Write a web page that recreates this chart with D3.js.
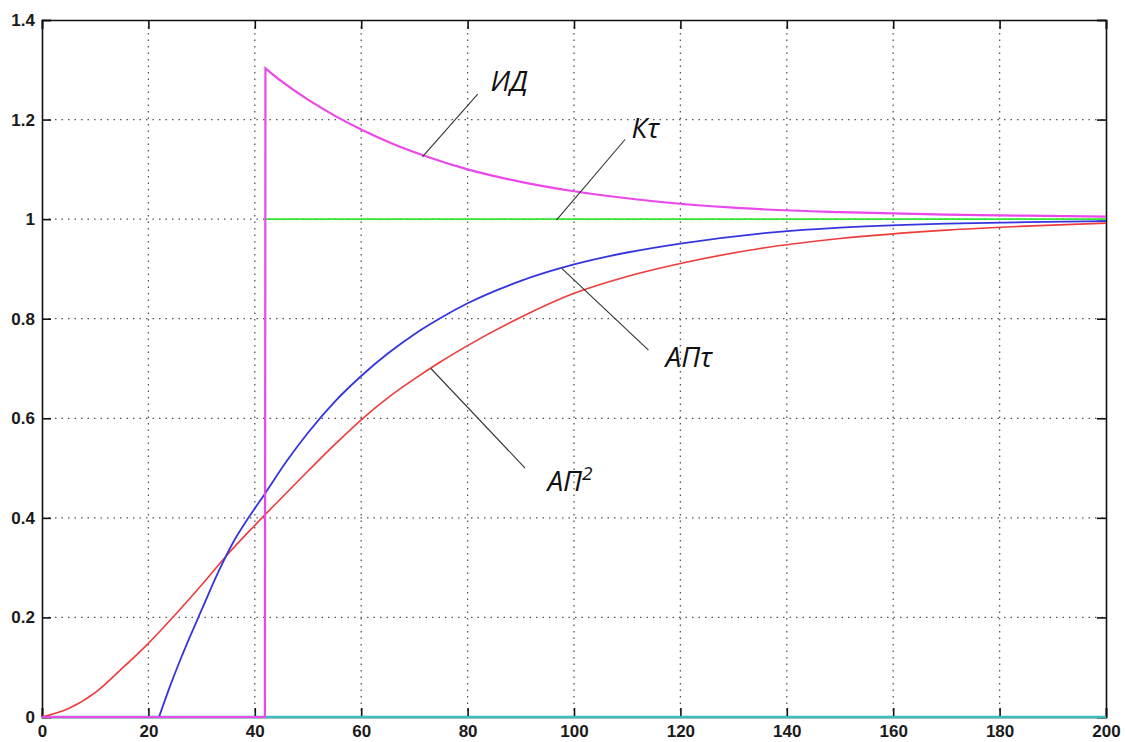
<!DOCTYPE html>
<html>
<head>
<meta charset="utf-8">
<script src="https://cdn.jsdelivr.net/npm/d3@7"></script>
<style>
  body { margin: 0; background: #fff; }
  .tick text { font-family: "Liberation Sans", Arial, sans-serif; font-weight: bold; font-size: 17px; fill: #1a1a1a; }
  .lbl { font-family: "Open Sans", "Liberation Sans", sans-serif; font-style: italic; font-size: 28px; fill: #111; }
</style>
</head>
<body>
<div id="chart"></div>
<script>
var width = 1125, height = 742;
var margin = {top: 20, right: 19, bottom: 25, left: 42};

// axis ticks
var xTicks = [0, 20, 40, 60, 80, 100, 120, 140, 160, 180, 200];
var yTicks = [0, 0.2, 0.4, 0.6, 0.8, 1, 1.2, 1.4];
var yTickLabels = ["0", "0.2", "0.4", "0.6", "0.8", "1", "1.2", "1.4"];

// АП² (red)
var tAP2 = [0, 5, 10, 15, 20, 25, 30, 35, 40, 45, 50, 55, 60, 65, 70, 75, 80, 90, 100, 110, 120, 135, 150, 170, 185, 200];
var vAP2 = [0, 0.017, 0.049, 0.097, 0.148, 0.205, 0.265, 0.328, 0.385, 0.44, 0.494, 0.547, 0.597, 0.641, 0.679, 0.714, 0.746, 0.803, 0.851, 0.885, 0.911, 0.941, 0.961, 0.978, 0.986, 0.992];

// АПτ (blue)
var tAPt = [22, 24, 26, 28, 30, 33, 36, 39, 42, 46, 50, 55, 60, 65, 70, 75, 80, 90, 100, 110, 120, 135, 150, 170, 185, 200];
var vAPt = [0, 0.06, 0.115, 0.166, 0.215, 0.288, 0.352, 0.403, 0.45, 0.514, 0.571, 0.633, 0.685, 0.73, 0.769, 0.802, 0.831, 0.876, 0.909, 0.933, 0.951, 0.971, 0.983, 0.991, 0.994, 0.996];

// ИД (magenta)
var tID = [0, 41.9, 42, 45, 50, 55, 60, 66, 72, 80, 90, 100, 115, 130, 150, 170, 185, 200];
var vID = [0, 0, 1.303, 1.277, 1.24, 1.208, 1.18, 1.151, 1.127, 1.1, 1.075, 1.056, 1.036, 1.023, 1.014, 1.009, 1.007, 1.005];

// Кτ (green)
var tKt = [42, 200];
var vKt = [1, 1];

// zero line (cyan)
var tZero = [0, 200];
var vZero = [0, 0];

// labels with leader lines, in data units
var labelNames = ["ИД", "Кτ", "АПτ", "АП"];
var labelAt = [[84.3, 1.258], [110.8, 1.162], [117.2, 0.703], [95.0, 0.453]];
var leaderFrom = [[71.5, 1.125], [96.7, 0.998], [97.7, 0.901], [73.1, 0.70]];
var leaderTo = [[81.9, 1.251], [109.6, 1.16], [114.0, 0.737], [90.8, 0.50]];

var svg = d3.select('#chart')
    .append('svg')
    .attr('width', width)
    .attr('height', height);

var x = d3.scaleLinear()
    .domain([0, 200])
    .range([margin.left, width - margin.right]);
var y = d3.scaleLinear()
    .domain([0, 1.4])
    .range([height - margin.bottom, margin.top]);

// dotted grid
svg.append("g").selectAll("line")
    .data(xTicks.slice(1, -1))
    .enter().append("line")
      .attr("x1", function(d) { return x(d); })
      .attr("x2", function(d) { return x(d); })
      .attr("y1", y(1.4))
      .attr("y2", y(0))
      .style("stroke", "#555")
      .style("stroke-width", 1.3)
      .style("stroke-dasharray", "1.5,5");
svg.append("g").selectAll("line")
    .data(yTicks.slice(1, -1))
    .enter().append("line")
      .attr("x1", x(0))
      .attr("x2", x(200))
      .attr("y1", function(d) { return y(d); })
      .attr("y2", function(d) { return y(d); })
      .style("stroke", "#555")
      .style("stroke-width", 1.3)
      .style("stroke-dasharray", "1.5,5");

// axes, ticks pointing inwards on every side
var yAxis = d3.axisLeft(y).tickValues(yTicks).tickSize(-9).tickPadding(7)
    .tickFormat(function(d, i) { return yTickLabels[i]; });
var xAxis = d3.axisBottom(x).tickValues(xTicks).tickSize(-9).tickPadding(8)
    .tickFormat(d3.format("d"));

svg.append("g").attr("transform", "translate(" + x(0) + ",0)").call(yAxis);
svg.append("g").attr("transform", "translate(" + x(200) + ",0)")
    .call(d3.axisRight(y).tickValues(yTicks).tickSize(-9).tickFormat(""));
svg.append("g").attr("transform", "translate(0," + y(1.4) + ")")
    .call(d3.axisTop(x).tickValues(xTicks).tickSize(-9).tickFormat(""));
svg.append("g").attr("transform", "translate(0," + y(0) + ")").call(xAxis);

svg.selectAll(".domain, .tick line")
    .style("stroke", "#111")
    .style("stroke-width", 1.6);

// the curves
var smooth = d3.line()
    .x(function(d) { return x(d[0]); })
    .y(function(d) { return y(d[1]); })
    .curve(d3.curveMonotoneX);
var straight = d3.line()
    .x(function(d) { return x(d[0]); })
    .y(function(d) { return y(d[1]); });

function pairs(t, v) { return t.map(function(d, i) { return [d, v[i]]; }); }

// a jump (big step over a tiny time) is drawn straight, the rest smooth
function curvePath(t, v) {
  var p = pairs(t, v), j = -1;
  for (var i = 1; i < p.length; i++) {
    if (p[i][0] - p[i-1][0] < 0.5 && Math.abs(p[i][1] - p[i-1][1]) > 0.5) j = i;
  }
  if (j < 0) return smooth(p);
  return straight(p.slice(0, j + 1)) + smooth(p.slice(j)).replace(/^M/, "L");
}

var series = [
  {t: tZero, v: vZero, color: "#3cbcbc", w: 2.6},
  {t: tKt, v: vKt, color: "#33e833", w: 1.8},
  {t: tAP2, v: vAP2, color: "#ee3b3b", w: 1.6},
  {t: tAPt, v: vAPt, color: "#3535e0", w: 1.8},
  {t: tID, v: vID, color: "#ea48ea", w: 2.2}
];

svg.append("g").selectAll("path")
    .data(series)
    .enter().append("path")
      .attr("d", function(s) { return curvePath(s.t, s.v); })
      .attr("fill", "none")
      .attr("stroke", function(s) { return s.color; })
      .attr("stroke-width", function(s) { return s.w; })
      .attr("stroke-linejoin", "miter");

// leaders and names
svg.append("g").selectAll("line")
    .data(leaderFrom)
    .enter().append("line")
      .attr("x1", function(d) { return x(d[0]); })
      .attr("y1", function(d) { return y(d[1]); })
      .attr("x2", function(d, i) { return x(leaderTo[i][0]); })
      .attr("y2", function(d, i) { return y(leaderTo[i][1]); })
      .style("stroke", "#333")
      .style("stroke-width", 1.1);

var names = svg.append("g").selectAll("text")
    .data(labelNames)
    .enter().append("text")
      .attr("class", "lbl")
      .attr("x", function(d, i) { return x(labelAt[i][0]); })
      .attr("y", function(d, i) { return y(labelAt[i][1]); })
      .text(function(d) { return d; });

// superscript on АП²
names.filter(function(d, i) { return i === 3; })
    .append("tspan")
      .attr("dy", -11)
      .style("font-size", "19px")
      .text("2");
</script>
</body>
</html>
